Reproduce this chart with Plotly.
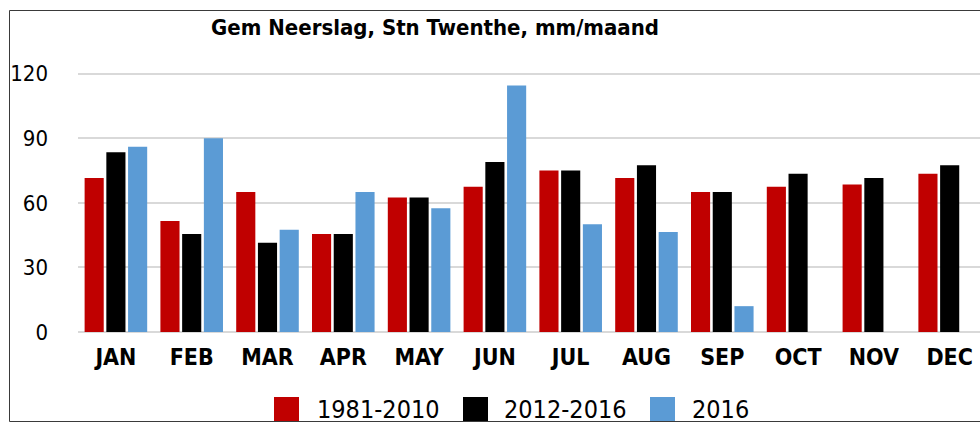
import plotly.graph_objects as go

months = ["JAN", "FEB", "MAR", "APR", "MAY", "JUN", "JUL", "AUG", "SEP", "OCT", "NOV", "DEC"]
series_names = ["1981-2010", "2012-2016", "2016"]
v_1981_2010 = [71.5, 51.5, 65, 45.5, 62.5, 67.5, 75, 71.5, 65, 67.5, 68.5, 73.5]
v_2012_2016 = [83.5, 45.5, 41.5, 45.5, 62.5, 79, 75, 77.5, 65, 73.5, 71.5, 77.5]
v_2016 = [86, 90, 47.5, 65, 57.5, 114.5, 50, 46.5, 12, None, None, None]
y_ticks = [0, 30, 60, 90, 120]
colors = ["#C00000", "#000000", "#5B9BD5"]

FONT = "DejaVu Sans Condensed"
W, H = 980, 423
PLOT_LEFT, PLOT_BOTTOM, PLOT_TOP = 78, 332, 63  # window pixel positions
L, R, T, B = PLOT_LEFT, 0, PLOT_TOP, H - PLOT_BOTTOM
PW, PH = W - L - R, H - T - B


def px_x(px):
    return (px - PLOT_LEFT) / PW


def px_y(py):
    return (PLOT_BOTTOM - py) / PH


fig = go.Figure()
for name, vals, col in zip(series_names, [v_1981_2010, v_2012_2016, v_2016], colors):
    fig.add_trace(go.Bar(x=months, y=vals, name=name, marker=dict(color=col, line=dict(width=0)),
                         showlegend=False))

shapes = []
annotations = []
# chart border (left, top, bottom; right edge lies outside the picture)
border = dict(color="#3a3a3a", width=1)
for x0, y0, x1, y1 in [(9.5, 10.5, 9.5, 421.5), (9.5, 10.5, 980, 10.5), (9.5, 421.5, 980, 421.5)]:
    shapes.append(dict(type="line", xref="paper", yref="paper",
                       x0=px_x(x0), x1=px_x(x1), y0=px_y(y0), y1=px_y(y1),
                       line=border, layer="above"))
# legend
leg_sq = [274, 463, 650]
leg_tx = [315, 502, 690]
for name, col, sx, tx in zip(series_names, colors, leg_sq, leg_tx):
    shapes.append(dict(type="rect", xref="paper", yref="paper",
                       x0=px_x(sx), x1=px_x(sx + 25), y0=px_y(421), y1=px_y(397),
                       line=dict(width=0), fillcolor=col))
    annotations.append(dict(text=name, xref="paper", yref="paper", x=px_x(tx), y=px_y(409.5),
                            xanchor="left", yanchor="middle", showarrow=False,
                            font=dict(family=FONT, size=25, color="#000000")))

fig.update_layout(
    width=W, height=H,
    margin=dict(l=L, r=R, t=T, b=B),
    paper_bgcolor="white", plot_bgcolor="white",
    barmode="group", bargap=0.14, bargroupgap=0.12,
    title=dict(text="<b>Gem Neerslag, Stn Twenthe, mm/maand</b>", x=435 / W, xanchor="center",
               y=1 - 27 / H, yanchor="middle", yref="container",
               font=dict(family=FONT, size=22, color="#000000")),
    xaxis=dict(type="category", range=[-0.5, 11.4], showgrid=False, showline=False, ticks="",
               tickfont=dict(family=FONT, size=23, color="#000000", weight="bold"),
               ticklabelstandoff=9),
    yaxis=dict(range=[0, PH / 2.153], tickvals=y_ticks, showgrid=True, gridcolor="#d9d9d9",
               gridwidth=2, zeroline=True, zerolinecolor="#d9d9d9", zerolinewidth=2,
               showline=False, ticks="", tickfont=dict(family=FONT, size=22, color="#000000"),
               ticklabelstandoff=29),
    shapes=shapes,
    annotations=annotations,
    showlegend=False,
)

fig.write_html("out.html", config={"displayModeBar": False},
               post_script="document.body.style.margin='0';document.body.style.overflow='hidden';")
